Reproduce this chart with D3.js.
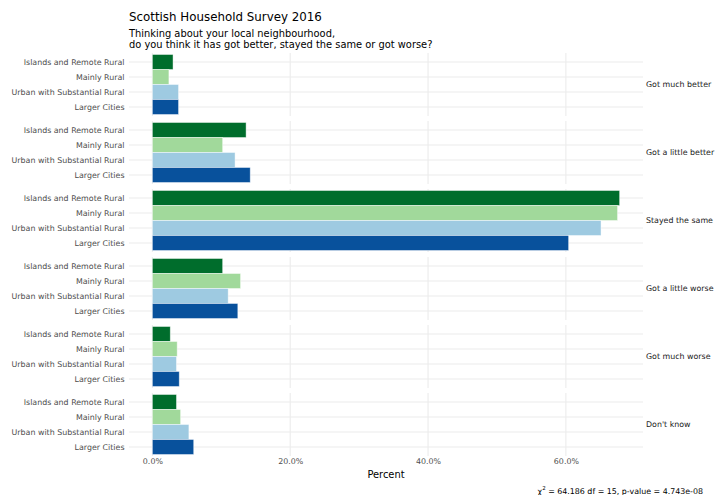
<!DOCTYPE html>
<html>
<head>
<meta charset="utf-8">
<script src="https://cdn.jsdelivr.net/npm/d3@7"></script>
<style>
  html, body { margin: 0; padding: 0; background: #ffffff; }
  svg { display: block; font-family: "DejaVu Sans", sans-serif; }
</style>
</head>
<body>
<svg id="chart" width="715" height="495"></svg>
<script>
// Response categories (one facet row each)
const responses = ["Got much better", "Got a little better", "Stayed the same",
                   "Got a little worse", "Got much worse", "Don't know"];
// Urban/rural classification (bars within each facet, top to bottom)
const areas = ["Islands and Remote Rural", "Mainly Rural",
               "Urban with Substantial Rural", "Larger Cities"];
// Percent of respondents, per area, in the order of `responses`
const islandsRemote  = [3.0, 13.6, 67.8, 10.2, 2.6, 3.5];
const mainlyRural    = [2.4, 10.2, 67.5, 12.8, 3.6, 4.1];
const urbanSubRural  = [3.8, 12.0, 65.1, 11.0, 3.5, 5.3];
const largerCities   = [3.8, 14.2, 60.4, 12.4, 3.9, 6.0];
const xTicks = [0, 20, 40, 60];
const areaColours = ["#006d2c", "#a1d99b", "#9ecae1", "#08519c"];

const seriesByArea = [islandsRemote, mainlyRural, urbanSubRural, largerCities];
const rows = [];
responses.forEach((resp, ri) => {
  areas.forEach((area, ai) => {
    rows.push({ response: resp, area: area, value: seriesByArea[ai][ri] });
  });
});

const svg = d3.select("#chart");
const panelLeft = 129, panelRight = 643;
const panelsTop = 53, panelsBottom = 456, panelGap = 5;
const axisGrey = "#4d4d4d";
const gridGrey = "#ebebeb";

// Continuous x with ggplot-style 5% expansion on both sides
const maxVal = d3.max(rows, d => d.value);
const x = d3.scaleLinear()
  .domain([-0.05 * maxVal, 1.05 * maxVal])
  .range([panelLeft, panelRight]);

// Facet rows
const panelH = (panelsBottom - panelsTop - panelGap * (responses.length - 1)) / responses.length;
const facetTop = r => panelsTop + responses.indexOf(r) * (panelH + panelGap);

// Categorical y inside a panel (discrete expansion of 0.6 units)
const yInner = d3.scalePoint().domain(areas).range([0, panelH]).padding(0.6);
const step = yInner.step();
const barH = step;

// Title block
svg.append("text").attr("x", panelLeft).attr("y", 21)
  .attr("font-size", 11.85).attr("fill", "#000")
  .text("Scottish Household Survey 2016");
svg.append("text").attr("x", panelLeft).attr("y", 36.5)
  .attr("font-size", 9.87).attr("fill", "#000")
  .text("Thinking about your local neighbourhood,");
svg.append("text").attr("x", panelLeft).attr("y", 47.5)
  .attr("font-size", 9.87).attr("fill", "#000")
  .text("do you think it has got better, stayed the same or got worse?");

responses.forEach(resp => {
  const top = facetTop(resp);
  const g = svg.append("g").attr("transform", `translate(0,${top})`);

  // vertical major gridlines
  g.selectAll("line.vx").data(xTicks).enter().append("line")
    .attr("x1", d => x(d)).attr("x2", d => x(d))
    .attr("y1", 0).attr("y2", panelH)
    .attr("stroke", gridGrey).attr("stroke-width", 1.07);

  // horizontal gridlines at each area
  g.selectAll("line.hy").data(areas).enter().append("line")
    .attr("x1", panelLeft).attr("x2", panelRight)
    .attr("y1", d => yInner(d)).attr("y2", d => yInner(d))
    .attr("stroke", gridGrey).attr("stroke-width", 1.07);

  // bars, with a faint white outline separating neighbours
  g.selectAll("rect").data(rows.filter(r => r.response === resp)).enter().append("rect")
    .attr("x", x(0))
    .attr("y", d => yInner(d.area) - barH / 2)
    .attr("width", d => x(d.value) - x(0))
    .attr("height", barH)
    .attr("fill", d => areaColours[areas.indexOf(d.area)])
    .attr("stroke", "#ffffff").attr("stroke-opacity", 0.55).attr("stroke-width", 0.8);

  // y axis labels
  g.selectAll("text.yl").data(areas).enter().append("text")
    .attr("x", 124.5).attr("y", d => yInner(d))
    .attr("dy", "0.35em").attr("text-anchor", "end")
    .attr("font-size", 7.9).attr("fill", axisGrey)
    .text(d => d);

  // facet strip label on the right
  g.append("text")
    .attr("x", 646).attr("y", panelH / 2).attr("dy", "0.35em")
    .attr("font-size", 7.9).attr("fill", "#1a1a1a")
    .text(resp);
});

// x axis (labels only, as in a minimal theme)
const xAxis = d3.axisBottom(x).tickValues(xTicks)
  .tickFormat(d => d.toFixed(1) + "%").tickSize(0).tickPadding(0);
const axG = svg.append("g").attr("transform", `translate(0,${panelsBottom + 2.5})`).call(xAxis);
axG.select(".domain").remove();
axG.selectAll("text").attr("font-size", 7.9).attr("fill", axisGrey)
  .attr("font-family", "DejaVu Sans, sans-serif").attr("dy", "0.71em");

// axis title
svg.append("text")
  .attr("x", (panelLeft + panelRight) / 2).attr("y", 477.5)
  .attr("text-anchor", "middle").attr("font-size", 9.87).attr("fill", "#000")
  .text("Percent");

// caption with chi-squared statistic
const cap = svg.append("text")
  .attr("x", 703).attr("y", 493.5).attr("text-anchor", "end")
  .attr("font-size", 7.9).attr("fill", "#000");
cap.append("tspan").text("χ");
cap.append("tspan").attr("font-size", 5.5).attr("dy", -3.5).text("2");
cap.append("tspan").attr("dy", 3.5).text(" = 64.186 df = 15, p-value = 4.743e-08");
</script>
</body>
</html>
